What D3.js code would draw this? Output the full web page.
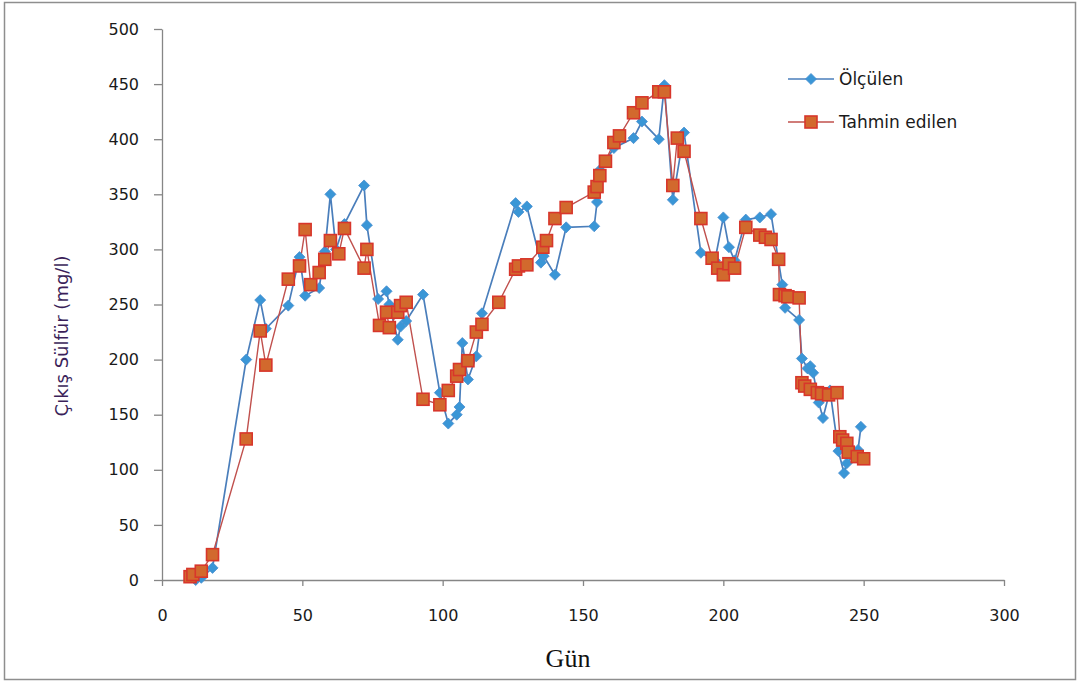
<!DOCTYPE html>
<html>
<head>
<meta charset="utf-8">
<script src="https://cdn.jsdelivr.net/npm/d3@7"></script>
<style>
  html, body { margin: 0; padding: 0; background: #fff; }
  svg { display: block; }
</style>
</head>
<body>
<svg id="chart" width="1080" height="682"></svg>
<script>
// Measured outlet sulphide (Ölçülen)
const measuredDays = [10, 12, 14, 18, 30, 35, 37, 45, 49, 51, 56, 58, 60, 62, 65, 72, 73, 77, 80, 81, 84, 85, 87, 93,
  99, 102, 105, 106, 107, 109, 112, 114, 126, 127, 130, 135, 136, 140, 144, 154, 155, 156, 161, 168, 171, 177, 179,
  182, 186, 192, 197, 200, 202, 204, 208, 213, 217, 221, 222, 227, 228, 230, 231, 232, 234, 235.5, 238, 241, 243, 244,
  248, 249];
const measuredValues = [3, 0, 2, 11, 200, 254, 228, 249, 293, 258, 265, 298, 350, 300, 323, 358, 322, 255, 262, 250,
  218, 230, 235, 259, 170, 142, 150, 157, 215, 182, 203, 242, 342, 334, 339, 288, 294, 277, 320, 321, 343, 372, 392,
  401, 416, 400, 449, 345, 406, 297, 290, 329, 302, 290, 327, 329, 332, 268, 247, 236, 201, 192, 194, 188, 161, 147,
  172, 117, 97, 106, 118, 139];

// Predicted outlet sulphide (Tahmin edilen)
const predictedDays = [10, 11, 14, 18, 30, 35, 37, 45, 49, 51, 53, 56, 58, 60, 63, 65, 72, 73, 77.5, 80, 81, 84, 85,
  87, 93, 99, 102, 105, 106, 109, 112, 114, 120, 126, 127, 130, 135.7, 137, 140, 144, 154, 155, 156, 158, 161, 163,
  168, 171, 177, 179, 182, 183.6, 186, 192, 196, 198, 200, 202, 204, 208, 213, 215, 217, 219.7, 220, 222, 223, 227,
  228, 229, 231, 233.5, 235, 237.5, 240.5, 241.5, 242.5, 244, 244.5, 247.7, 250];
const predictedValues = [3, 5, 8, 23, 128, 226, 195, 273, 285, 318, 268, 279, 291, 308, 296, 319, 283, 300, 231, 243,
  229, 243, 249, 252, 164, 159, 172, 185, 191, 199, 225, 232, 252, 282, 285, 286, 302, 308, 328, 338, 352, 357, 367,
  380, 397, 403, 424, 433, 443, 443, 358, 401, 389, 328, 292, 283, 277, 287, 283, 320, 313, 311, 309, 291, 259, 258,
  257, 256, 179, 176, 173, 170, 169, 168, 170, 130, 127, 124, 116, 112, 110];

const xTicks = [0, 50, 100, 150, 200, 250, 300];
const yTicks = [0, 50, 100, 150, 200, 250, 300, 350, 400, 450, 500];
const seriesNames = ["Ölçülen", "Tahmin edilen"];

const measured = measuredDays.map((d, i) => ({ x: d, y: measuredValues[i] }));
const predicted = predictedDays.map((d, i) => ({ x: d, y: predictedValues[i] }));

const svg = d3.select("#chart");
const axisColor = "#868686";
const font = "'DejaVu Sans', Verdana, sans-serif";

// outer frame
svg.append("rect")
  .attr("x", 4.5).attr("y", 2.5).attr("width", 1071).attr("height", 677)
  .attr("fill", "#fff").attr("stroke", "#8e8e8e").attr("stroke-width", 1.5);

const x = d3.scaleLinear().domain([0, 300]).range([162, 1004]);
const y = d3.scaleLinear().domain([0, 500]).range([580, 29]);

// axes
const yAxis = svg.append("g")
  .attr("transform", `translate(${x(0)},0)`)
  .call(d3.axisLeft(y).tickValues(yTicks).tickSize(8).tickSizeOuter(0).tickPadding(15));
const xAxis = svg.append("g")
  .attr("transform", `translate(0,${y(0)})`)
  .call(d3.axisBottom(x).tickValues(xTicks).tickSize(6).tickSizeOuter(0).tickPadding(24));

[xAxis, yAxis].forEach(g => {
  g.select(".domain").attr("stroke", axisColor).attr("stroke-width", 1.3);
  g.selectAll(".tick line").attr("stroke", axisColor).attr("stroke-width", 1.3);
  g.selectAll(".tick text")
    .attr("fill", "#1a1a1a")
    .style("font-family", font)
    .style("font-size", "16px");
});

// axis titles
svg.append("text")
  .attr("x", 568).attr("y", 667)
  .attr("text-anchor", "middle")
  .style("font-family", "'Liberation Serif', 'Times New Roman', serif")
  .style("font-size", "26px")
  .attr("fill", "#111")
  .text("Gün");

svg.append("text")
  .attr("transform", "translate(68,336) rotate(-90)")
  .attr("text-anchor", "middle")
  .style("font-family", font)
  .style("font-size", "18px")
  .attr("fill", "#3b1f5a")
  .text("Çıkış Sülfür (mg/l)");

const line = d3.line().x(d => x(d.x)).y(d => y(d.y));

const blueLine = "#4a7ebb", blueFill = "#3a96d6";
const redLine = "#c0504d", redFill = "#d2692d", redEdge = "#d8362b";

// measured series
svg.append("path").datum(measured)
  .attr("d", line).attr("fill", "none")
  .attr("stroke", blueLine).attr("stroke-width", 1.7);

// predicted series
svg.append("path").datum(predicted)
  .attr("d", line).attr("fill", "none")
  .attr("stroke", redLine).attr("stroke-width", 1.4);

const diamond = d3.symbol().type(d3.symbolDiamond2).size(78);
svg.append("g").selectAll("path").data(measured).join("path")
  .attr("d", diamond)
  .attr("transform", d => `translate(${x(d.x)},${y(d.y)})`)
  .attr("fill", blueFill).attr("stroke", "#4a8fd0").attr("stroke-width", 0.8);

const sq = 12;
svg.append("g").selectAll("rect").data(predicted).join("rect")
  .attr("x", d => x(d.x) - sq / 2).attr("y", d => y(d.y) - sq / 2)
  .attr("width", sq).attr("height", sq)
  .attr("fill", redFill).attr("stroke", redEdge).attr("stroke-width", 1.6);

// legend
const legend = svg.append("g");
const legendRows = [
  { name: seriesNames[0], y: 79, kind: "diamond" },
  { name: seriesNames[1], y: 122, kind: "square" }
];
legendRows.forEach(r => {
  legend.append("line")
    .attr("x1", 788).attr("x2", 834).attr("y1", r.y).attr("y2", r.y)
    .attr("stroke", r.kind === "diamond" ? blueLine : redLine)
    .attr("stroke-width", 1.6);
  if (r.kind === "diamond") {
    legend.append("path").attr("d", diamond)
      .attr("transform", `translate(811,${r.y})`)
      .attr("fill", blueFill).attr("stroke", "#4a8fd0").attr("stroke-width", 0.8);
  } else {
    legend.append("rect")
      .attr("x", 811 - sq / 2).attr("y", r.y - sq / 2).attr("width", sq).attr("height", sq)
      .attr("fill", redFill).attr("stroke", redEdge).attr("stroke-width", 1.6);
  }
  legend.append("text")
    .attr("x", 839).attr("y", r.y + 6)
    .style("font-family", font)
    .style("font-size", "17px")
    .attr("fill", "#1a1a1a")
    .text(r.name);
});
</script>
</body>
</html>
